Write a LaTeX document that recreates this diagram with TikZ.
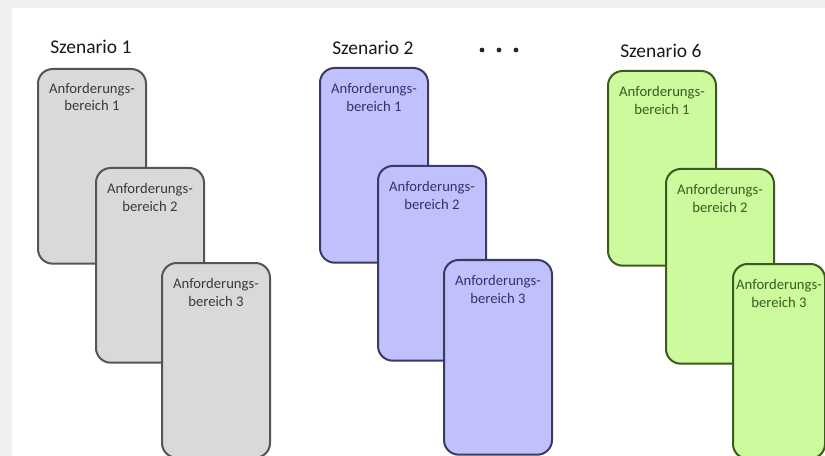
\documentclass[tikz,border=0pt]{standalone}
\usepackage{fontspec}
\setmainfont{Carlito}
\definecolor{grayfill}{HTML}{D9D9D9}
\definecolor{grayline}{HTML}{555555}
\definecolor{graytext}{HTML}{3A3A3A}
\definecolor{bluefill}{HTML}{C0C0FD}
\definecolor{blueline}{HTML}{3A3A62}
\definecolor{bluetext}{HTML}{33336A}
\definecolor{greenfill}{HTML}{CCFA9C}
\definecolor{greenline}{HTML}{3B5A1E}
\definecolor{greentext}{HTML}{3A5C1C}
\definecolor{frame}{HTML}{F0F0F0}
\begin{document}
\begin{tikzpicture}[x=0.75pt,y=-0.75pt,
  card/.style={draw, line width=1.5pt, rounded corners=11pt, inner sep=0pt,
    anchor=north west, minimum width=81pt, minimum height=146pt},
  graycard/.style={card, fill=grayfill, draw=grayline},
  bluecard/.style={card, fill=bluefill, draw=blueline},
  greencard/.style={card, fill=greenfill, draw=greenline},
  cardtext/.style={anchor=north, inner sep=0pt, align=center,
    font=\fontsize{11}{13.2}\selectfont},
  title/.style={anchor=west, inner sep=0pt, font=\fontsize{14.6}{17}\selectfont, text=black!90},
  dot/.style={circle, fill=black!85, inner sep=0pt, minimum size=3.6pt}
]
\useasboundingbox (0,0) rectangle (825,456);
% soft frame around the sheet
\fill[frame] (0,0) rectangle (825,456);
\fill[white] (12,8) rectangle (825,456);

% scenario titles
\node[title] (t1) at (50,47) {Szenario 1};
\node[title] (t2) at (332,48) {Szenario 2};
\node[title] (t6) at (620,51) {Szenario 6};
\node[dot] (d1) at (482,50) {};
\node[dot] (d2) at (499,50) {};
\node[dot] (d3) at (516,50) {};

% scenario 1
\node[graycard] (g1) at (37,68) {};
\node[cardtext, text=graytext] (g1t) at ([yshift=-11pt]g1.north) {Anforderungs-\\bereich 1};
\node[graycard] (g2) at (95,167) {};
\node[cardtext, text=graytext] (g2t) at ([yshift=-12pt]g2.north) {Anforderungs-\\bereich 2};
\node[graycard] (g3) at (161,262) {};
\node[cardtext, text=graytext] (g3t) at ([yshift=-12pt]g3.north) {Anforderungs-\\bereich 3};

% scenario 2
\node[bluecard] (b1) at (319,67) {};
\node[cardtext, text=bluetext] (b1t) at ([yshift=-12pt]b1.north) {Anforderungs-\\bereich 1};
\node[bluecard] (b2) at (377,165) {};
\node[cardtext, text=bluetext] (b2t) at ([yshift=-12pt]b2.north) {Anforderungs-\\bereich 2};
\node[bluecard] (b3) at (443,259) {};
\node[cardtext, text=bluetext] (b3t) at ([yshift=-12pt]b3.north) {Anforderungs-\\bereich 3};

% scenario 6
\node[greencard] (n1) at (607,70) {};
\node[cardtext, text=greentext] (n1t) at ([yshift=-12pt]n1.north) {Anforderungs-\\bereich 1};
\node[greencard] (n2) at (665,168) {};
\node[cardtext, text=greentext] (n2t) at ([yshift=-12pt]n2.north) {Anforderungs-\\bereich 2};
\node[greencard, minimum width=69pt] (n3) at (732,263) {};
\node[cardtext, text=greentext] (n3t) at ([yshift=-12pt]n3.north) {Anforderungs-\\bereich 3};
\end{tikzpicture}
\end{document}
